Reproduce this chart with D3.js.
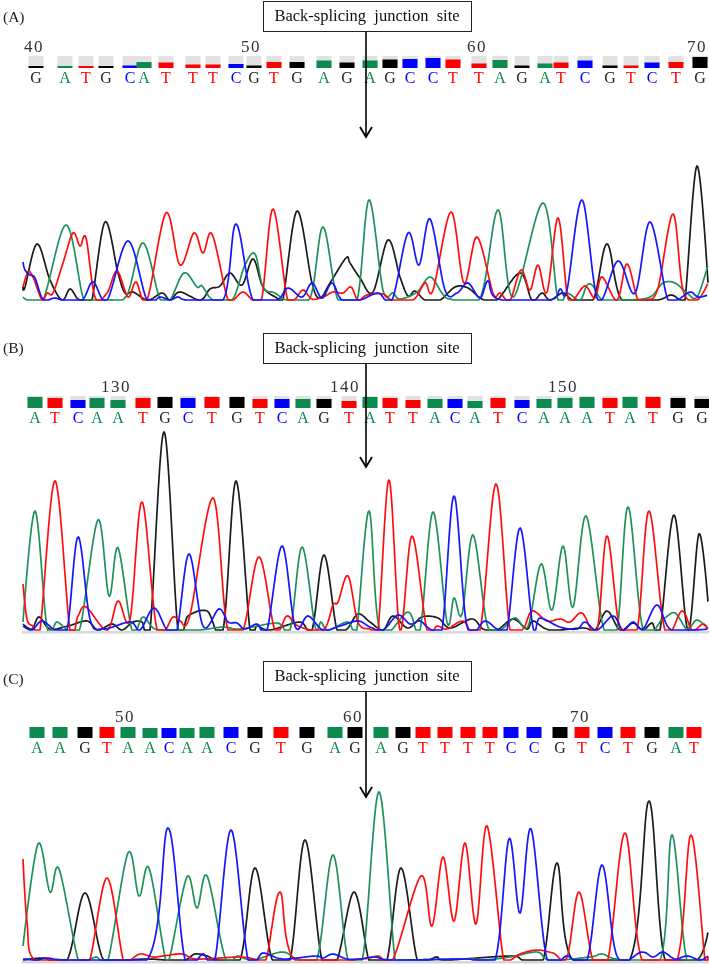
<!DOCTYPE html>
<html>
<head>
<meta charset="utf-8">
<style>
  html, body { margin: 0; padding: 0; background: #fff; }
  svg { display: block; }
  text { font-family: "Liberation Serif", serif; }
</style>
<script src="https://cdn.jsdelivr.net/npm/d3@7/dist/d3.min.js"></script>
</head>
<body>
<script>
var width = 709,
    height = 964;

// base calls, scan position of each call, and call quality
var basesA = ['G','A','T','G','C','A','T','T','T','C','G','T','G','A','G','A','G','C','C','T','T','A','G','A','T','C','G','T','C','T','G'];
var scansA = [36,65,86,106,130,144,166,193,213,236,254,274,297,324,347,370,390,410,433,453,479,500,522,545,561,585,610,631,652,676,700];
var qualA  = [2,2,2,2,2.5,6,5.5,3.5,3.5,4,2.5,6,6,7.5,5.5,7.5,8.5,9,10,8.5,4.5,8,2.5,4.5,5.5,7.5,2.5,2.5,5.5,6,11];
var ticksA = [[40,34],[50,251],[60,477],[70,697]];

var basesB = ['A','T','C','A','A','T','G','C','T','G','T','C','A','G','T','A','T','T','A','C','A','T','C','A','A','A','T','A','T','G','G'];
var scansB = [35,55,78,97,118,143,165,188,212,237,260,282,303,324,349,370,390,413,435,455,475,498,522,544,565,587,610,630,653,678,702];
var qualB  = [11,10,8,10,8,10,11,10,11,11,9,9,9,9,7,11,10,8,9,9,7,10,8,9,10,11,10,11,11,10,9];
var ticksB = [[130,116],[140,345],[150,563]];

var basesC = ['A','A','G','T','A','A','C','A','A','C','G','T','G','A','G','A','G','T','T','T','T','C','C','G','T','C','T','G','A','T'];
var scansC = [37,60,85,107,128,150,169,187,207,231,255,281,307,335,355,381,403,423,445,468,490,511,534,560,582,605,628,652,676,694];
var qualC  = [11,11,11,11,11,10,10,10,11,11,11,11,11,11,11,11,11,11,11,11,11,11,11,11,11,11,11,11,11,11];
var ticksC = [[50,125],[60,353],[70,580]];

// trace readings as [scan, signal], one list per channel
var traceAG = [[23,13],[25,13],[37,56],[50,20],[62,0],[70,11],[78,1],[87,0],[92,0],[105,78],[118,27],[125,7],[133,8],[148,0],[162,7],[170,0],[180,8],[200,0],[210,11],[220,14],[230,27],[242,15],[253,41],[263,13],[277,2],[283,1],[297,89],[312,17],[320,2],[330,17],[346,42],[350,37],[360,22],[373,8],[388,60],[400,23],[408,4],[415,9],[425,0],[440,0],[455,13],[468,12],[482,1],[497,0],[520,27],[532,0],[542,7],[550,0],[563,7],[573,0],[593,0],[607,56],[622,0],[657,0],[671,5],[680,0],[685,0],[697,134],[708,17]];
var traceAA = [[23,3],[28,0],[43,0],[66,75],[83,3],[92,0],[110,0],[127,5],[143,57],[160,1],[170,0],[184,27],[197,13],[202,14],[213,0],[232,0],[245,35],[255,46],[263,13],[275,7],[287,0],[310,2],[323,73],[338,0],[357,0],[369,100],[383,10],[393,7],[400,1],[417,8],[430,23],[442,7],[450,1],[480,2],[498,90],[513,3],[543,97],[558,0],[567,7],[580,0],[587,15],[593,14],[603,0],[627,0],[650,3],[663,17],[675,17],[687,7],[697,3],[708,35]];
var traceAT = [[23,13],[28,28],[33,23],[42,0],[47,7],[53,7],[63,37],[73,67],[80,54],[86,62],[95,3],[107,7],[117,29],[128,3],[136,18],[147,0],[166,87],[180,35],[194,67],[203,47],[212,66],[227,3],[233,0],[243,8],[253,0],[262,3],[273,91],[287,3],[295,1],[303,10],[312,1],[323,3],[333,8],[343,7],[351,13],[358,0],[367,5],[383,6],[392,0],[413,0],[425,17],[433,10],[451,88],[464,17],[477,63],[493,7],[500,7],[510,0],[521,30],[530,10],[538,35],[547,8],[558,82],[567,7],[573,0],[585,14],[595,2],[602,23],[617,0],[627,36],[638,0],[647,0],[658,12],[673,86],[683,10],[697,0],[708,17]];
var traceAC = [[23,38],[25,30],[30,25],[35,22],[43,1],[55,2],[63,0],[82,0],[93,18],[107,0],[128,59],[147,0],[160,3],[170,0],[178,3],[187,0],[223,0],[236,76],[253,0],[277,0],[288,12],[302,3],[312,17],[322,2],[332,17],[342,0],[360,0],[378,7],[392,0],[408,67],[419,35],[430,81],[445,10],[457,7],[468,17],[480,2],[488,19],[498,1],[550,0],[560,11],[567,10],[582,100],[598,0],[618,39],[635,7],[650,78],[667,3],[677,0],[690,8],[698,3],[708,5]];

var traceBG = [[23,6],[32,1],[39,13],[50,1],[68,4],[87,9],[98,0],[112,6],[122,0],[133,8],[142,8],[150,0],[164,198],[178,0],[188,14],[207,19],[223,0],[236,149],[250,0],[257,4],[270,0],[300,8],[312,0],[324,75],[337,0],[347,1],[358,16],[370,8],[383,0],[393,14],[408,2],[422,13],[438,12],[450,2],[472,11],[483,1],[497,0],[513,11],[527,1],[533,9],[550,0],[583,2],[595,0],[607,19],[620,0],[633,7],[643,0],[652,7],[660,0],[674,115],[688,0],[699,96],[708,28]];
var traceBA = [[23,8],[35,119],[47,3],[57,8],[68,0],[80,2],[98,110],[109,34],[118,82],[132,0],[143,13],[155,1],[177,0],[200,0],[223,3],[240,1],[277,7],[290,0],[302,83],[315,4],[321,8],[328,0],[347,8],[353,0],[357,1],[369,119],[380,0],[408,18],[420,0],[433,118],[447,8],[454,32],[462,16],[473,95],[487,6],[500,0],[515,12],[528,4],[541,66],[552,20],[563,84],[573,23],[586,114],[603,4],[617,0],[628,123],[643,1],[663,11],[675,17],[687,1],[697,10],[708,1]];
var traceBT = [[23,46],[27,11],[33,4],[40,0],[55,149],[70,0],[78,14],[86,23],[107,0],[118,29],[130,11],[142,128],[157,1],[173,13],[180,9],[190,15],[213,132],[227,4],[243,0],[259,73],[275,0],[287,14],[298,4],[323,0],[333,25],[338,28],[348,54],[358,8],[370,1],[378,0],[389,150],[400,0],[412,94],[427,0],[437,4],[447,1],[463,9],[480,0],[496,146],[510,0],[523,1],[532,19],[547,9],[560,11],[570,8],[582,17],[597,0],[607,94],[620,1],[637,0],[649,119],[665,0],[682,19],[692,0],[703,6],[708,1]];
var traceBC = [[23,4],[32,0],[42,9],[55,0],[67,0],[78,93],[90,11],[103,1],[130,8],[140,0],[154,22],[167,0],[177,0],[189,76],[203,4],[219,21],[228,8],[237,7],[245,1],[257,6],[267,0],[282,84],[295,4],[308,14],[323,0],[340,4],[358,9],[370,3],[383,0],[398,15],[410,6],[420,9],[430,1],[442,0],[454,134],[467,4],[485,9],[497,1],[507,0],[520,102],[533,3],[540,12],[560,3],[577,1],[585,8],[597,0],[613,14],[623,0],[633,8],[643,1],[657,25],[670,1],[693,0],[708,1]];

var traceCG = [[23,0],[43,2],[67,0],[85,67],[103,1],[123,0],[147,1],[167,0],[185,0],[195,6],[207,4],[217,0],[240,0],[255,92],[272,1],[290,0],[305,120],[322,0],[337,0],[354,68],[368,3],[373,0],[387,0],[401,92],[417,1],[428,0],[437,3],[447,0],[510,4],[523,0],[543,0],[557,97],[572,1],[630,1],[649,159],[665,0],[697,0],[708,28]];
var traceCA = [[23,14],[38,116],[50,68],[59,91],[78,1],[87,0],[97,3],[108,0],[128,107],[139,64],[149,92],[165,3],[170,4],[187,83],[197,52],[207,84],[225,3],[238,4],[253,0],[282,8],[297,1],[317,1],[333,105],[348,0],[363,4],[379,168],[395,1],[403,0],[467,1],[483,0],[510,3],[537,8],[550,0],[590,3],[602,6],[617,1],[660,0],[672,125],[687,0],[708,0]];
var traceCT = [[23,101],[27,38],[35,0],[80,0],[90,1],[107,82],[123,1],[130,0],[140,6],[153,3],[163,4],[182,6],[197,1],[240,3],[260,0],[267,4],[280,68],[295,0],[360,1],[378,4],[393,1],[421,84],[432,34],[443,103],[454,39],[465,117],[476,36],[487,134],[503,4],[510,0],[520,6],[537,10],[553,7],[567,3],[579,68],[593,0],[608,1],[625,127],[642,0],[677,0],[691,125],[705,0],[708,4]];
var traceCC = [[23,1],[37,0],[47,2],[67,0],[147,0],[168,132],[185,1],[203,6],[215,1],[231,130],[248,1],[263,7],[283,1],[315,4],[323,2],[333,6],[347,1],[360,1],[375,3],[393,0],[467,1],[495,0],[509,121],[520,47],[531,131],[547,1],[567,4],[587,0],[602,95],[617,4],[642,8],[653,3],[663,8],[675,1],[687,4],[700,0],[708,4]];

var colors = { A: '#0b8a4e', T: '#ff0000', G: '#000000', C: '#0000ff' };
var traceColors = { A: '#1f9159', T: '#ff1010', G: '#1a1a1a', C: '#1414ff' };

var panels = [
  { tag: '(A)', tagY: 22, boxY: 1, tipY: 137, barBottom: 68, baseline: 300, grayBar: true, floor: false,
    bases: basesA, scans: scansA, qual: qualA, ticks: ticksA,
    traces: { G: traceAG, A: traceAA, T: traceAT, C: traceAC } },
  { tag: '(B)', tagY: 353, boxY: 333, tipY: 467, barBottom: 408, baseline: 630, grayBar: true, floor: true,
    bases: basesB, scans: scansB, qual: qualB, ticks: ticksB,
    traces: { G: traceBG, A: traceBA, T: traceBT, C: traceBC } },
  { tag: '(C)', tagY: 684, boxY: 661, tipY: 797, barBottom: 738, baseline: 960, grayBar: false, floor: true,
    bases: basesC, scans: scansC, qual: qualC, ticks: ticksC,
    traces: { G: traceCG, A: traceCA, T: traceCT, C: traceCC } }
];

var svg = d3.select('body')
  .append('svg')
  .attr('width', width)
  .attr('height', height);

var defs = svg.append('defs');
defs.append('filter')
  .attr('id', 'soft')
  .append('feGaussianBlur')
  .attr('stdDeviation', 0.4);

var x = d3.scaleLinear().domain([0, 709]).range([0, 709]);
var barHeight = d3.scaleLinear().domain([0, 12]).range([0, 12]);

panels.forEach(function(p, i) {
  var g = svg.append('g').attr('filter', 'url(#soft)');

  var y = d3.scaleLinear()
    .domain([0, 200])
    .range([p.baseline, p.baseline - 200]);

  var line = d3.line()
    .x(function(d) { return x(d[0]); })
    .y(function(d) { return y(d[1]); })
    .curve(d3.curveCatmullRom.alpha(0));

  var flat = d3.line().x(function(d) { return d[0]; }).y(function(d) { return d[1]; });

  g.append('text')
    .attr('x', 3)
    .attr('y', p.tagY)
    .attr('font-size', 15.5)
    .attr('fill', '#222')
    .text(p.tag);

  if (p.floor) {
    g.append('rect')
      .attr('x', 22)
      .attr('y', p.baseline + 1)
      .attr('width', width - 22)
      .attr('height', 2.5)
      .attr('fill', '#d8d8d8');
  }

  // position numbers
  g.selectAll('.tick-num')
    .data(p.ticks)
    .enter().append('text')
    .attr('class', 'tick-num')
    .attr('x', function(d) { return x(d[1]); })
    .attr('y', p.barBottom - 16)
    .attr('text-anchor', 'middle')
    .attr('font-size', 17)
    .attr('letter-spacing', 1.5)
    .attr('fill', '#333')
    .text(function(d) { return d[0]; });

  // quality bars
  var calls = p.bases.map(function(b, j) {
    return { base: b, scan: p.scans[j], q: p.qual[j] };
  });

  if (p.grayBar) {
    g.selectAll('.bar-bg')
      .data(calls)
      .enter().append('rect')
      .attr('class', 'bar-bg')
      .attr('x', function(d) { return x(d.scan) - 7.5; })
      .attr('y', p.barBottom - barHeight(12))
      .attr('width', 15)
      .attr('height', barHeight(12))
      .attr('fill', '#e2e2e2');
  }

  g.selectAll('.bar')
    .data(calls)
    .enter().append('rect')
    .attr('class', 'bar')
    .attr('x', function(d) { return x(d.scan) - 7.5; })
    .attr('y', function(d) { return p.barBottom - barHeight(d.q); })
    .attr('width', 15)
    .attr('height', function(d) { return barHeight(d.q); })
    .attr('fill', function(d) { return colors[d.base]; });

  g.selectAll('.base')
    .data(calls)
    .enter().append('text')
    .attr('class', 'base')
    .attr('x', function(d) { return x(d.scan); })
    .attr('y', p.barBottom + 15)
    .attr('text-anchor', 'middle')
    .attr('font-size', 16)
    .attr('fill', function(d) { return d.base === 'G' ? '#222' : colors[d.base]; })
    .text(function(d) { return d.base; });

  // chromatogram: the spline can dip under zero, so flatten it at the baseline
  var traces = g.append('g');
  ['G', 'A', 'T', 'C'].forEach(function(ch) {
    var path = traces.append('path')
      .datum(p.traces[ch])
      .attr('d', line)
      .attr('fill', 'none')
      .attr('stroke', traceColors[ch])
      .attr('stroke-width', 1.7);
    var node = path.node(),
        total = node.getTotalLength(),
        pts = [];
    for (var s = 0; s <= total; s += 1) {
      var pt = node.getPointAtLength(s);
      pts.push([pt.x, Math.min(pt.y, p.baseline)]);
    }
    path.attr('d', flat(pts));
  });

  // junction callout
  g.append('line')
    .attr('x1', 366).attr('x2', 366)
    .attr('y1', p.boxY + 31).attr('y2', p.tipY)
    .attr('stroke', '#000')
    .attr('stroke-width', 1.6);
  g.append('path')
    .attr('d', 'M360,' + (p.tipY - 10) + 'L366,' + p.tipY + 'L372,' + (p.tipY - 10))
    .attr('fill', 'none')
    .attr('stroke', '#000')
    .attr('stroke-width', 1.8);
  g.append('rect')
    .attr('x', 263.5)
    .attr('y', p.boxY + 0.5)
    .attr('width', 208)
    .attr('height', 30)
    .attr('fill', '#fff')
    .attr('stroke', '#222')
    .attr('stroke-width', 1);
  g.append('text')
    .attr('x', 367)
    .attr('y', p.boxY + 20)
    .attr('text-anchor', 'middle')
    .attr('font-size', 16.5)
    .attr('fill', '#111')
    .style('white-space', 'pre')
    .text('Back-splicing  junction  site');
});
</script>
</body>
</html>
